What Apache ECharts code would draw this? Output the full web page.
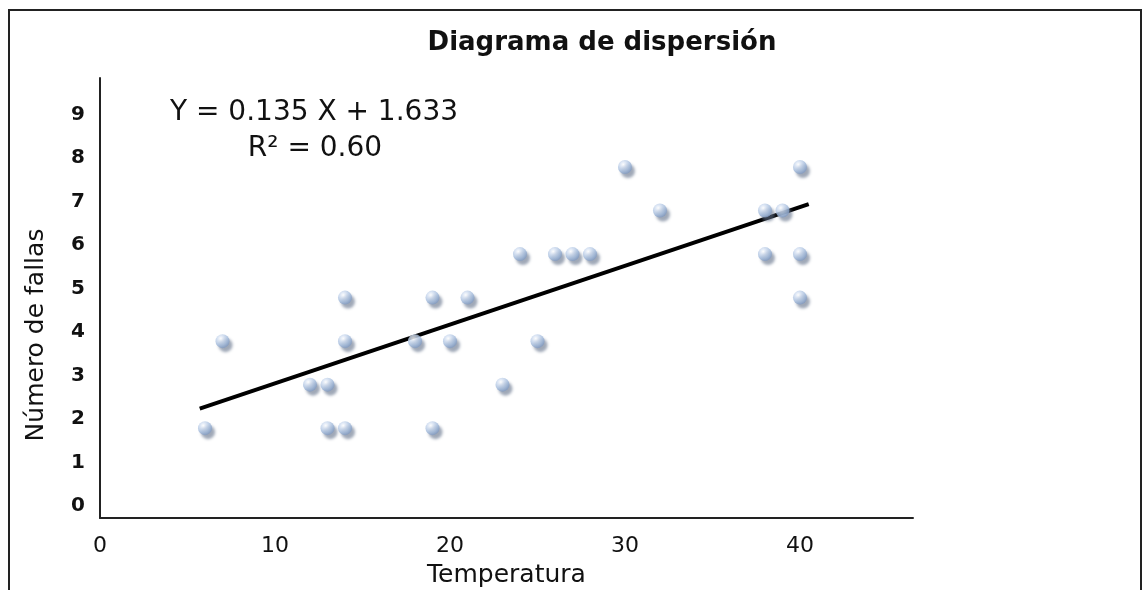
<!DOCTYPE html>
<html>
<head>
<meta charset="utf-8">
<script src="https://cdn.jsdelivr.net/npm/echarts@6/dist/echarts.min.js"></script>
<style>
html,body{margin:0;padding:0;background:#fff;}
#chart{width:1147px;height:590px;}
</style>
</head>
<body>
<div id="chart"></div>
<script>
// ---- data ----
var temperatura = [6, 7, 12, 13, 13, 14, 14, 14, 18, 19, 19, 20, 21, 23, 24, 25, 26, 27, 28, 30, 32, 38, 38, 39, 40, 40, 40];
var fallas      = [2, 4, 3, 3, 2, 2, 4, 5, 4, 5, 2, 4, 5, 3, 6, 4, 6, 6, 6, 8, 7, 7, 6, 7, 8, 6, 5];
var xTicks = [0, 10, 20, 30, 40];
var yTicks = [0, 1, 2, 3, 4, 5, 6, 7, 8, 9];
var slope = 0.135, intercept = 1.633;
var lineX = [5.7, 40.5];
var eqText = 'Y = 0.135 X + 1.633';
var r2Text = 'R\u00B2 = 0.60';

var points = temperatura.map(function (t, i) { return [t, fallas[i]]; });
var linePts = lineX.map(function (x) { return [x, slope * x + intercept]; });

var FONT = '"DejaVu Sans", Verdana, sans-serif';
var chart = echarts.init(document.getElementById('chart'), null, {renderer: 'canvas'});
chart.setOption({
  animation: false,
  backgroundColor: '#ffffff',
  title: {
    text: 'Diagrama de dispersi\u00F3n',
    left: 597, top: 25, textAlign: 'center',
    textStyle: {fontFamily: FONT, fontSize: 26, fontWeight: 'bold', color: '#111'}
  },
  grid: {left: 100, right: 234, top: 78, bottom: 72, containLabel: false, outerBoundsMode: 'none'},
  xAxis: {
    type: 'value', min: 0, max: 46.46,
    name: 'Temperatura', nameLocation: 'middle', nameGap: 45,
    nameTextStyle: {fontFamily: FONT, fontSize: 25, color: '#111'},
    axisLine: {show: true, onZero: false, lineStyle: {color: '#222', width: 2}},
    axisTick: {show: false},
    splitLine: {show: false},
    axisLabel: {customValues: xTicks, fontFamily: FONT, fontSize: 22, color: '#111', margin: 17}
  },
  yAxis: {
    type: 'value', min: -0.11, max: 10,
    axisLine: {show: true, onZero: false, lineStyle: {color: '#222', width: 2}},
    axisTick: {show: false},
    splitLine: {show: false},
    axisLabel: {customValues: yTicks, fontFamily: FONT, fontSize: 20, fontWeight: 'bold', color: '#111', margin: 15, verticalAlign: 'bottom', lineHeight: 14}
  },
  graphic: [
    {type: 'rect', silent: true, shape: {x: 9, y: 10, width: 1132, height: 640}, style: {fill: 'none', stroke: '#222', lineWidth: 2}},
    {type: 'text', x: 36, y: 335, rotation: Math.PI / 2, style: {text: 'N\u00FAmero de fallas', font: '25px "DejaVu Sans"', fill: '#111', align: 'center', verticalAlign: 'middle'}},
    {type: 'text', x: 314, y: 113, style: {text: eqText, font: '28px "DejaVu Sans"', fill: '#111', align: 'center', verticalAlign: 'middle'}},
    {type: 'text', x: 315, y: 149, style: {text: r2Text, font: '28px "DejaVu Sans"', fill: '#111', align: 'center', verticalAlign: 'middle'}}
  ],
  series: [
    {
      type: 'line', data: linePts, symbol: 'none', z: 2,
      lineStyle: {color: '#000', width: 4}
    },
    {
      type: 'scatter', data: points, symbolSize: 14, symbolOffset: [0, 2], z: 3,
      itemStyle: {
        color: new echarts.graphic.RadialGradient(0.38, 0.32, 0.7, [
          {offset: 0, color: '#ffffff'},
          {offset: 0.3, color: '#d4e0f2'},
          {offset: 0.7, color: '#a3bbdc'},
          {offset: 1, color: '#8099c0'}
        ]),
        shadowColor: 'rgba(95,110,135,0.75)', shadowBlur: 3, shadowOffsetX: 3, shadowOffsetY: 4
      }
    }
  ]
});
</script>
</body>
</html>
